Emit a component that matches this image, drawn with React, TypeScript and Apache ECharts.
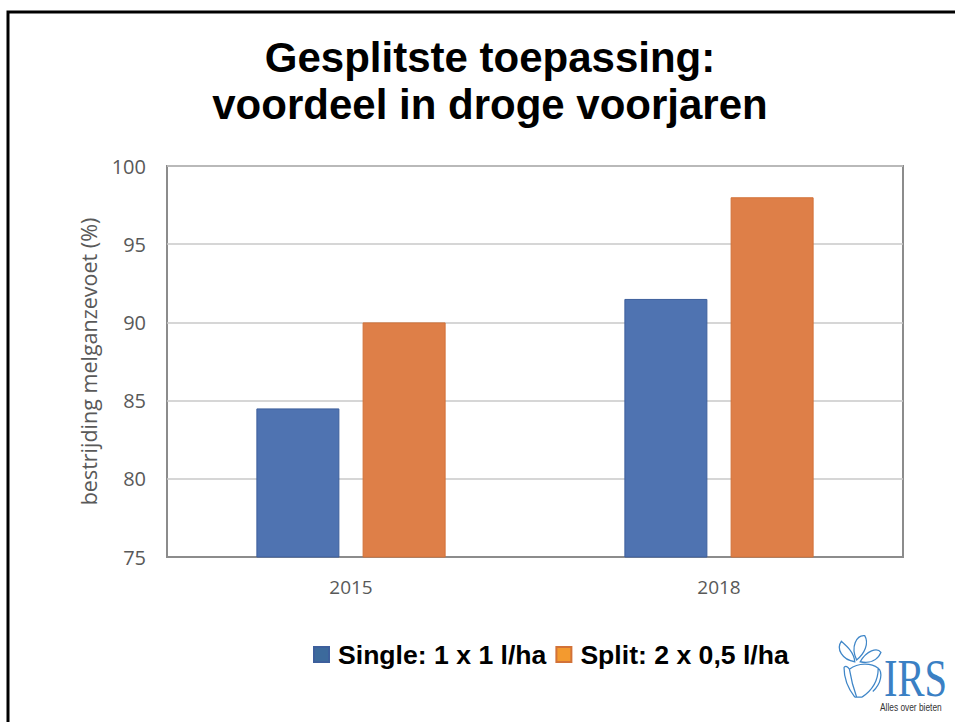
import React, { useEffect, useRef } from "react";
import * as echarts from "echarts";

const categories = ["2015", "2018"];
const singleValues = [84.5, 91.5];
const splitValues = [90.0, 98.0];
const seriesNames = ["Single: 1 x 1 l/ha", "Split: 2 x 0,5 l/ha"];
const yTicks = { min: 75, max: 100, interval: 5 };

const flowerPath =
  "M 22 32 C 8 30 1 18 7 10 C 14 16 21 22 22 32 Z " +
  "M 24 30 C 17 16 24 3 33 4 C 38 12 33 23 24 30 Z " +
  "M 28 32 C 35 20 47 16 51 22 C 47 31 38 34 28 32 Z " +
  "M 10 38 C 10 54 17 64 22 70 M 16 40 C 18 52 21 62 24 70 " +
  "M 16 40 C 26 33 40 33 48 39 C 48 53 41 63 30 70 " +
  "M 48 39 C 53 43 52 55 42 64 M 10 38 C 12 36 14 37 16 40 M 22 70 L 30 70";

let registered = false;

export default function App() {
  const ref = useRef<HTMLDivElement>(null);
  useEffect(() => {
    if (!ref.current) return;
    if (!registered) {
      echarts.graphic.registerShape("irslogo", echarts.graphic.extendPath(flowerPath, {}) as any);
      registered = true;
    }
    const chart = echarts.init(ref.current, null, { renderer: "svg" });
    chart.setOption({
      animation: false,
      backgroundColor: "#ffffff",
      title: {
        text: "Gesplitste toepassing:\nvoordeel in droge voorjaren",
        left: 485,
        textAlign: "center",
        top: 29,
        textStyle: {
          fontFamily: "Liberation Sans, Arial, sans-serif",
          fontWeight: "bold",
          fontSize: 42,
          lineHeight: 47,
          color: "#000000",
        },
      },
      grid: {
        left: 167,
        right: 52,
        top: 166,
        bottom: 165,
        show: true,
        borderColor: "#8c8c8c",
        borderWidth: 2,
        containLabel: false,
      },
      legend: {
        left: 308,
        top: 636,
        itemWidth: 15,
        itemHeight: 15,
        itemGap: 9,
        icon: "rect",
        textStyle: {
          fontFamily: "Liberation Sans, Arial, sans-serif",
          fontWeight: "bold",
          fontSize: 26.6,
          color: "#000000",
          padding: [0, 0, 0, 4],
        },
        data: [
          { name: seriesNames[0], itemStyle: { color: "#3c6a9c" } },
          { name: seriesNames[1], itemStyle: { color: "#f39a2f" } },
        ],
      },
      xAxis: {
        type: "category",
        data: categories,
        axisLine: { show: true, lineStyle: { color: "#8c8c8c", width: 2 } },
        axisTick: { show: false },
        axisLabel: {
          margin: 20,
          fontFamily: "Open Sans, Liberation Sans, sans-serif",
          fontSize: 19,
          color: "#595959",
        },
      },
      yAxis: {
        type: "value",
        min: yTicks.min,
        max: yTicks.max,
        interval: yTicks.interval,
        name: "bestrijding melganzevoet (%)",
        nameLocation: "middle",
        nameGap: 68,
        nameTextStyle: {
          fontFamily: "Open Sans, Liberation Sans, sans-serif",
          fontSize: 21.5,
          color: "#595959",
        },
        axisLine: { show: false },
        axisTick: { show: false },
        splitLine: { lineStyle: { color: "#c8c8c8", width: 1.5 } },
        axisLabel: {
          margin: 21,
          fontFamily: "Open Sans, Liberation Sans, sans-serif",
          fontSize: 20,
          color: "#595959",
        },
      },
      series: [
        {
          name: seriesNames[0],
          type: "bar",
          data: singleValues,
          barWidth: 83,
          barGap: "28%",
          itemStyle: { color: "#4f73b1", borderColor: "#3d5f9c", borderWidth: 1 },
        },
        {
          name: seriesNames[1],
          type: "bar",
          data: splitValues,
          barWidth: 83,
          itemStyle: { color: "#de7f48", borderColor: "#d27238", borderWidth: 1 },
        },
      ],
      graphic: [
        {
          type: "rect",
          silent: true,
          shape: { x: 8, y: 12, width: 1000, height: 800 },
          style: { fill: "none", stroke: "#000000", lineWidth: 3 },
        },
        {
          type: "irslogo",
          x: 835,
          y: 632,
          scaleX: 0.9,
          scaleY: 0.93,
          style: { fill: "none", stroke: "#3f86c8", lineWidth: 1.4 },
        },
        {
          type: "text",
          x: 884,
          y: 652,
          scaleX: 0.78,
          style: {
            text: "IRS",
            fontFamily: "Liberation Serif, Times New Roman, serif",
            fontSize: 52,
            fill: "#3a80c4",
          },
        },
        {
          type: "text",
          x: 880,
          y: 707,
          scaleX: 0.76,
          style: {
            text: "Alles over bieten",
            fontFamily: "Liberation Sans, Arial, sans-serif",
            fontSize: 11,
            verticalAlign: "middle",
            fill: "#333333",
          },
        },
      ],
    });
    return () => chart.dispose();
  }, []);
  return (
    <div
      ref={ref}
      style={{ position: "fixed", left: 0, top: 0, width: 955, height: 722 }}
    />
  );
}
